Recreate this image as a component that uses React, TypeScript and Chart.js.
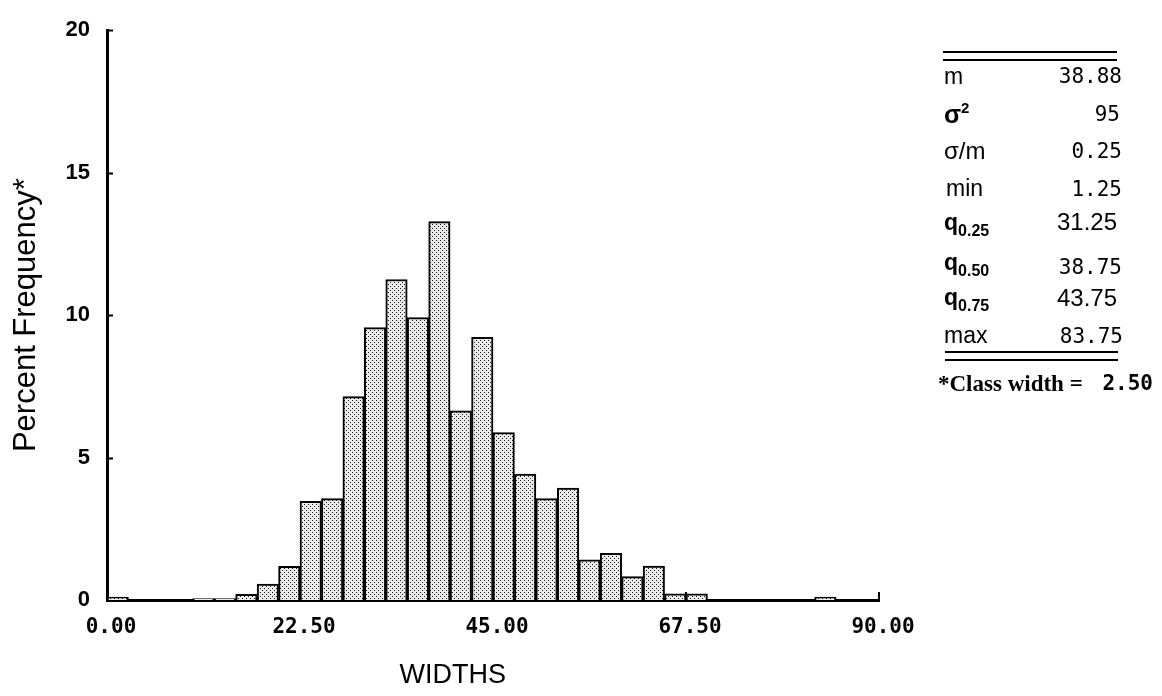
import React, { useEffect, useRef } from "react";
import { Chart, registerables } from "chart.js";

Chart.register(...registerables);

// ---- data ----
const classCenters = [
  1.25, 3.75, 6.25, 8.75, 11.25, 13.75, 16.25, 18.75, 21.25, 23.75, 26.25, 28.75,
  31.25, 33.75, 36.25, 38.75, 41.25, 43.75, 46.25, 48.75, 51.25, 53.75, 56.25, 58.75,
  61.25, 63.75, 66.25, 68.75, 71.25, 73.75, 76.25, 78.75, 81.25, 83.75, 86.25, 88.75,
];
const percentFrequency: (number | null)[] = [
  0.1, null, null, null, 0.05, 0.05, 0.2, 0.56, 1.18, 3.46, 3.56, 7.14,
  9.56, 11.25, 9.91, 13.28, 6.64, 9.22, 5.88, 4.42, 3.56, 3.93, 1.41, 1.64,
  0.82, 1.19, 0.22, 0.22, null, null, null, null, null, 0.1, null, null,
];
const xTickValues = [0, 22.5, 45, 67.5, 90];
const yTickValues = [0, 5, 10, 15, 20];
const xAxisTitle = "WIDTHS";
const yAxisTitle = "Percent Frequency*";

const statNames = ["m", "σ2", "σ/m", "min", "q0.25", "q0.50", "q0.75", "max"];
const statValues = ["38.88", "95", "0.25", "1.25", "31.25", "38.75", "43.75", "83.75"];
const footnoteLabel = "*Class width = ";
const footnoteValue = "2.50";

const SANS = '"Liberation Sans", Arial, sans-serif';
const MONO = '"DejaVu Sans Mono", monospace';
const SERIF = '"Liberation Serif", "Times New Roman", serif';

function makePattern(ctx: CanvasRenderingContext2D) {
  const c = document.createElement("canvas");
  c.width = 4;
  c.height = 4;
  const p = c.getContext("2d")!;
  p.fillStyle = "#ececec";
  p.fillRect(0, 0, 4, 4);
  p.fillStyle = "#1a1a1a";
  p.fillRect(0, 0, 1, 1);
  p.fillRect(2, 2, 1, 1);
  return ctx.createPattern(c, "repeat");
}

const extrasPlugin = {
  id: "extras",
  afterDraw(chart: any) {
    const { ctx, chartArea, scales } = chart;
    ctx.save();
    ctx.strokeStyle = "#000";
    ctx.lineWidth = 2;
    ctx.beginPath();
    for (const v of yTickValues.slice(1)) {
      const y = Math.round(scales.y.getPixelForValue(v)) + 0.5;
      ctx.moveTo(chartArea.left, y);
      ctx.lineTo(chartArea.left + 6, y);
    }
    for (const v of xTickValues.slice(1)) {
      const x = scales.x.getPixelForValue(v);
      ctx.moveTo(x, chartArea.bottom);
      ctx.lineTo(x, chartArea.bottom - 8);
    }
    ctx.stroke();
    ctx.fillStyle = "#000";
    ctx.font = `27px ${SANS}`;
    ctx.textAlign = "center";
    ctx.textBaseline = "alphabetic";
    ctx.fillText(xAxisTitle, chartArea.left + chartArea.width * 0.448, 683);
    ctx.restore();
  },
};

function StatLabel({ name }: { name: string }) {
  if (name.startsWith("q")) {
    return (
      <span style={{ fontFamily: SANS, fontWeight: 700, fontSize: 23 }}>
        q
        <span style={{ fontSize: 16, position: "relative", top: 6 }}>{name.slice(1)}</span>
      </span>
    );
  }
  if (name === "σ2") {
    return (
      <span style={{ fontFamily: SANS, fontWeight: 700, fontSize: 25 }}>
        σ
        <span style={{ fontSize: 15, position: "relative", top: -10 }}>2</span>
      </span>
    );
  }
  if (name === "σ/m") {
    return <span style={{ fontFamily: SANS, fontSize: 24 }}>{name}</span>;
  }
  return <span style={{ fontFamily: SANS, fontSize: 23 }}>{name}</span>;
}

export default function App() {
  const canvasRef = useRef<HTMLCanvasElement | null>(null);

  useEffect(() => {
    const canvas = canvasRef.current!;
    const ctx = canvas.getContext("2d")!;
    const pattern = makePattern(ctx);
    const chart = new Chart(ctx, {
      type: "bar",
      data: {
        datasets: [
          {
            label: "Percent Frequency",
            data: classCenters.map((x, i) => ({ x, y: percentFrequency[i] })) as any,
            backgroundColor: pattern as any,
            borderColor: "#000",
            borderWidth: 2,
            barPercentage: 1,
            categoryPercentage: 1,
          },
        ],
      },
      options: {
        responsive: false,
        animation: false,
        layout: { padding: { left: 0, right: 283, top: 25, bottom: 0 } },
        plugins: { legend: { display: false }, tooltip: { enabled: false } },
        scales: {
          x: {
            type: "linear",
            offset: false,
            min: 0,
            max: 90,
            afterFit: (s: any) => {
              s.height = 96;
            },
            afterBuildTicks: (s: any) => {
              s.ticks = xTickValues.map((v) => ({ value: v }));
            },
            grid: { display: false, drawTicks: false, offset: false },
            border: { display: true, color: "#000", width: 3 },
            ticks: {
              padding: 15,
              labelOffset: 4,
              maxRotation: 0,
              color: "#000",
              font: { family: MONO, size: 21, weight: "bold" },
              callback: (v: any) => Number(v).toFixed(2),
            },
          },
          y: {
            min: 0,
            max: 20,
            afterFit: (s: any) => {
              s.width = 107;
            },
            afterBuildTicks: (s: any) => {
              s.ticks = yTickValues.map((v) => ({ value: v }));
            },
            grid: { display: false, drawTicks: false },
            border: { display: true, color: "#000", width: 3 },
            ticks: {
              padding: 17,
              color: "#000",
              font: { family: SANS, size: 22, weight: "bold" },
              callback: (v: any) => String(v),
            },
            title: {
              display: true,
              text: yAxisTitle,
              color: "#000",
              font: { family: SANS, size: 31 },
              padding: { top: 8, bottom: 0 },
            },
          },
        },
      },
      plugins: [extrasPlugin],
    });
    return () => chart.destroy();
  }, []);

  const labelBaselines = [84, 121.7, 158.3, 196.7, 230, 270, 305, 343.5];
  const valueBaselines = [84, 121.7, 158.3, 196.7, 230, 275, 306, 344];
  const valueRights = [1122, 1120, 1122, 1122, 1117, 1122, 1117, 1123];
  const sansValue = (v: string) => v === "31.25" || v === "43.75";

  const rule = (top: number, left: number, width: number) => (
    <div
      style={{ position: "absolute", top, left, width, height: 0, borderTop: "2px solid #000" }}
    />
  );

  return (
    <div style={{ position: "absolute", left: 0, top: 0, width: 1162, height: 696, background: "#fff" }}>
      <canvas ref={canvasRef} width={1162} height={696} style={{ display: "block" }} />
      {rule(51, 943, 174)}
      {rule(59, 943, 174)}
      {statNames.map((n, i) => (
        <div
          key={n}
          style={{
            position: "absolute",
            left: i === 3 ? 946 : 944,
            top: labelBaselines[i] - 0.8465 * 23,
            lineHeight: 1,
            whiteSpace: "nowrap",
            color: "#000",
          }}
        >
          <StatLabel name={n} />
        </div>
      ))}
      {statValues.map((v, i) => {
        const fs = sansValue(v) ? 24 : 21;
        return (
          <div
            key={"v" + i}
            style={{
              position: "absolute",
              right: 1162 - valueRights[i],
              top: valueBaselines[i] - 0.8465 * fs,
              fontFamily: sansValue(v) ? SANS : MONO,
              fontSize: fs,
              lineHeight: 1,
              color: "#000",
              whiteSpace: "nowrap",
            }}
          >
            {v}
          </div>
        );
      })}
      {rule(351, 945, 173)}
      {rule(359, 945, 173)}
      <div
        style={{
          position: "absolute",
          left: 938,
          top: 391 - 0.8375 * 23,
          fontFamily: SERIF,
          fontWeight: 700,
          fontSize: 23,
          lineHeight: 1,
          whiteSpace: "pre",
          color: "#000",
        }}
      >
        {footnoteLabel}
      </div>
      <div
        style={{
          position: "absolute",
          right: 1162 - 1153,
          top: 391 - 0.846 * 21,
          fontFamily: MONO,
          fontSize: 21,
          fontWeight: 700,
          lineHeight: 1,
          color: "#000",
        }}
      >
        {footnoteValue}
      </div>
    </div>
  );
}
